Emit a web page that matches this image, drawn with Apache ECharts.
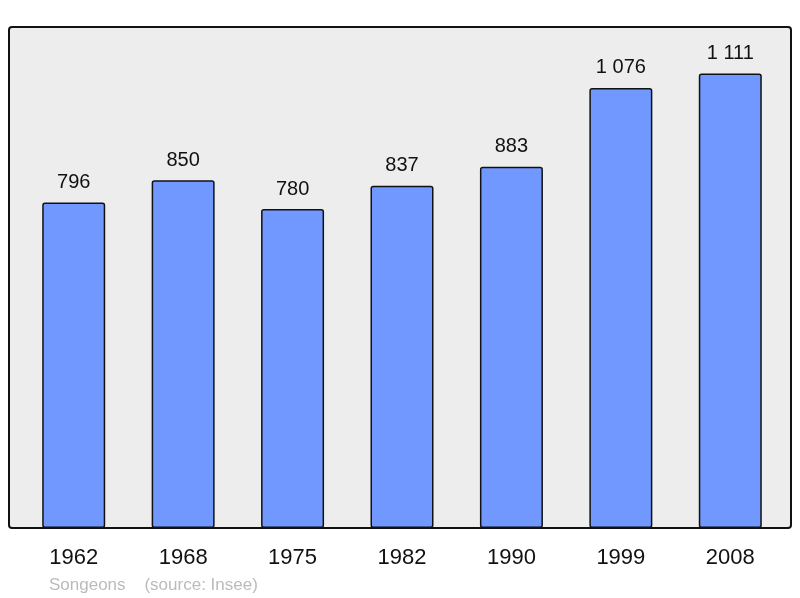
<!DOCTYPE html>
<html>
<head>
<meta charset="utf-8">
<script src="https://cdn.jsdelivr.net/npm/echarts@6/dist/echarts.min.js"></script>
<style>
html, body { margin: 0; padding: 0; background: #fff; }
#chart { width: 800px; height: 598px; }
</style>
</head>
<body>
<div id="chart"></div>
<script>
var years = ['1962', '1968', '1975', '1982', '1990', '1999', '2008'];
var population = [796, 850, 780, 837, 883, 1076, 1111];

// séparateur de milliers à la française
function fmt(v) {
	return String(v).replace(/\B(?=(\d{3})+(?!\d))/g, ' ');
}

var myChart = echarts.init(document.getElementById('chart'));
myChart.setOption({
	animation: false,
	textStyle: { fontFamily: 'Liberation Sans, Arial, sans-serif' },
	grid: { left: 19, right: 15, top: 27, bottom: 70 },
	graphic: [
		{
			type: 'rect',
			z: -10,
			shape: { x: 9, y: 27, width: 782, height: 501, r: 3 },
			style: { fill: '#ededed', stroke: '#111', lineWidth: 2 }
		},
		{
			type: 'text',
			left: 49,
			top: 577,
			style: {
				text: 'Songeons    (source: Insee)',
				fill: '#bbbbbb',
				font: '17px Liberation Sans, Arial, sans-serif'
			}
		}
	],
	xAxis: {
		type: 'category',
		data: years,
		axisLine: { show: false },
		axisTick: { show: false },
		axisLabel: { color: '#111', fontSize: 22, margin: 19 }
	},
	yAxis: {
		type: 'value',
		min: 0,
		max: 1225,
		show: false,
		splitLine: { show: false }
	},
	series: [{
		type: 'bar',
		data: population,
		barWidth: 63,
		itemStyle: { color: '#7098ff', borderColor: '#111', borderWidth: 1.5, borderRadius: 2 },
		label: {
			show: true,
			position: 'top',
			distance: 10,
			color: '#111',
			fontSize: 20,
			formatter: function(p) { return fmt(p.value); }
		}
	}]
});
</script>
</body>
</html>
